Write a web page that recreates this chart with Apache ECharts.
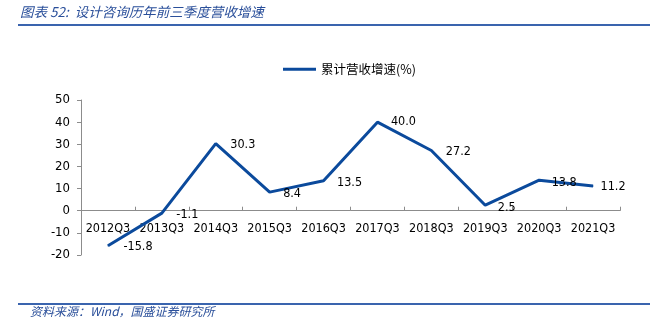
<!DOCTYPE html>
<html>
<head>
<meta charset="utf-8">
<script src="https://cdn.jsdelivr.net/npm/echarts@6/dist/echarts.min.js"></script>
<style>
html,body{margin:0;padding:0;background:#fff;}
#chart{width:656px;height:325px;}
</style>
</head>
<body>
<div id="chart"></div>
<script>
// Categories and values
const quarters = ['2012Q3','2013Q3','2014Q3','2015Q3','2016Q3','2017Q3','2018Q3','2019Q3','2020Q3','2021Q3'];
const growth = [-15.8, -1.1, 30.3, 8.4, 13.5, 40.0, 27.2, 2.5, 13.8, 11.2];
const seriesName = '累计营收增速(%)';
const titleText = '图表 52:  设计咨询历年前三季度营收增速';
const sourceText = '资料来源：Wind，国盛证券研究所';

// Per-point label offsets (dx, dy)
const labelOffsets = [[10,1],[9,2],[9,1],[8,2],[8,2],[8,0],[9,1],[7,3],[7,3],[2,1]];

const lineColor = '#0B4A9C';
const ruleColor = '#3A64AE';
const numFont = '"DejaVu Sans Condensed", "DejaVu Sans"';

const gridTop = 100, gridBottom = 70, chartH = 325;
const yMin = -20, yMax = 50;
const plotH = chartH - gridTop - gridBottom;
// x axis sits on the zero line
const zeroOffset = -plotH * (0 - yMin) / (yMax - yMin);

const chart = echarts.init(document.getElementById('chart'), null, {renderer:'canvas'});
chart.setOption({
  animation:false,
  textStyle:{fontFamily:numFont},
  graphic:[
    {type:'text', left:20, top:5, style:{text:titleText, fill:'#2A4F9A', font:'italic 13.5px "Noto Sans CJK SC"'}},
    {type:'rect', shape:{x:18,y:24,width:632,height:2}, style:{fill:ruleColor}},
    {type:'rect', shape:{x:18,y:303,width:632,height:2}, style:{fill:ruleColor}},
    {type:'text', left:30, top:305, style:{text:sourceText, fill:'#2A4F9A', font:'italic 12px "Noto Sans CJK SC"'}}
  ],
  legend:{
    top:58, left:278,
    itemWidth:33, itemHeight:3, itemGap:5,
    icon:'rect',
    data:[{name:seriesName, icon:'rect'}],
    textStyle:{fontFamily:'Noto Sans CJK SC', fontSize:12.5, color:'#000'}
  },
  grid:{left:81, right:36, top:gridTop, bottom:gridBottom},
  xAxis:{
    type:'category',
    data:quarters,
    boundaryGap:true,
    offset:zeroOffset,
    axisLine:{onZero:false, lineStyle:{color:'#8c8c8c', width:1}},
    axisTick:{show:true, inside:true, length:4, lineStyle:{color:'#8c8c8c'}},
    axisLabel:{color:'#000', fontSize:12.5, fontFamily:numFont, margin:12, interval:0, hideOverlap:false}
  },
  yAxis:{
    type:'value',
    min:yMin, max:yMax, interval:10,
    splitLine:{show:false},
    axisLine:{show:true, lineStyle:{color:'#8c8c8c'}},
    axisTick:{show:true, length:4, lineStyle:{color:'#8c8c8c'}},
    axisLabel:{color:'#000', fontSize:13, fontFamily:numFont, margin:11}
  },
  series:[{
    name:seriesName,
    type:'line',
    data:growth.map((v,i)=>({value:v, label:{offset:labelOffsets[i]}})),
    symbol:'circle', symbolSize:1, showSymbol:true,
    lineStyle:{color:lineColor, width:3},
    itemStyle:{color:lineColor},
    label:{
      show:true, position:'right', color:'#000', fontSize:12.5, fontFamily:numFont,
      formatter:p=>Number(p.value).toFixed(1)
    }
  }]
});
</script>
</body>
</html>
